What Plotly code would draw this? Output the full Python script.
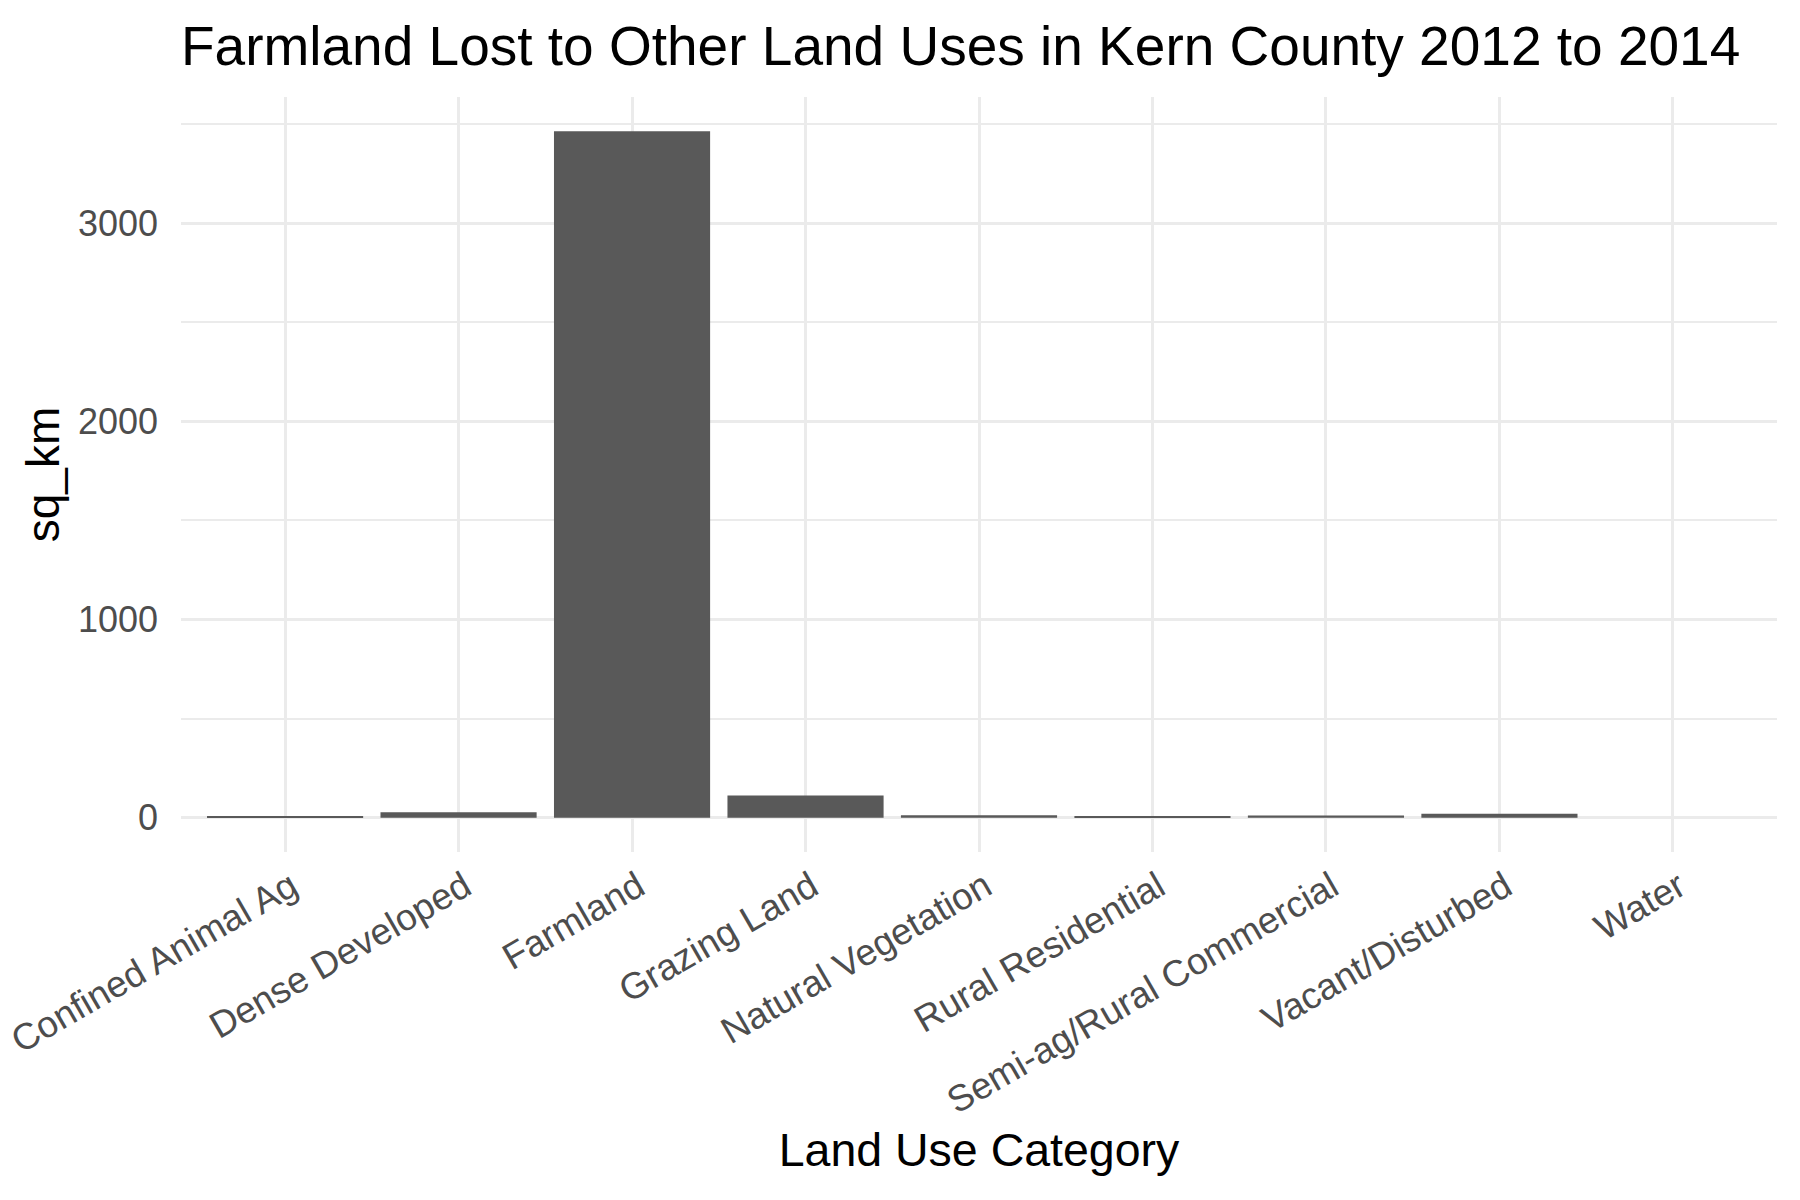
import plotly.graph_objects as go

categories = ["Confined Animal Ag", "Dense Developed", "Farmland", "Grazing Land",
              "Natural Vegetation", "Rural Residential", "Semi-ag/Rural Commercial",
              "Vacant/Disturbed", "Water"]
sq_km = [5, 27, 3464, 112, 12, 5, 11, 20, 0]

title_text = "Farmland Lost to Other Land Uses in Kern County 2012 to 2014"
x_title = "Land Use Category"
y_title = "sq_km"
y_ticks = [0, 1000, 2000, 3000]

FONT = "Liberation Sans, Arial, sans-serif"
GRID = "#EBEBEB"

fig = go.Figure(go.Bar(
    x=categories, y=sq_km, width=0.9,
    marker=dict(color="#595959", line=dict(width=0)),
))

ymax = max(sq_km)
fig.update_layout(
    width=1800, height=1200,
    paper_bgcolor="white", plot_bgcolor="white",
    margin=dict(l=181, r=23, t=97, b=348, autoexpand=False),
    font=dict(family=FONT, color="#4D4D4D"),
    title=dict(text=title_text, x=0, xref="paper", xanchor="left",
               y=1 - 46 / 1200, yref="container", yanchor="middle",
               font=dict(size=55, color="black", family=FONT)),
    showlegend=False,
    bargap=0.1,
)
fig.update_xaxes(
    range=[-0.6, len(categories) - 0.4],
    showgrid=True, gridcolor=GRID, gridwidth=2.5,
    tickangle=-30, tickfont=dict(size=37, color="#4D4D4D"),
    ticks="", ticklabelstandoff=5, ticklabelshift=6, automargin=False,
    showline=False, zeroline=False,
    title=dict(text=x_title, font=dict(size=46.5, color="black"), standoff=12),
)
fig.update_yaxes(
    range=[-0.05 * ymax, 1.05 * ymax],
    tickvals=y_ticks, ticktext=[str(v) for v in y_ticks],
    showgrid=True, gridcolor=GRID, gridwidth=2.5,
    minor=dict(tickvals=[500, 1500, 2500, 3500], showgrid=True, gridcolor=GRID, gridwidth=1.5),
    tickfont=dict(size=36, color="#4D4D4D"),
    ticks="", ticklabelstandoff=22, automargin=False,
    showline=False, zeroline=False,
    title=dict(text=y_title, font=dict(size=46, color="black"), standoff=3),
)

fig.write_html("out.html")
